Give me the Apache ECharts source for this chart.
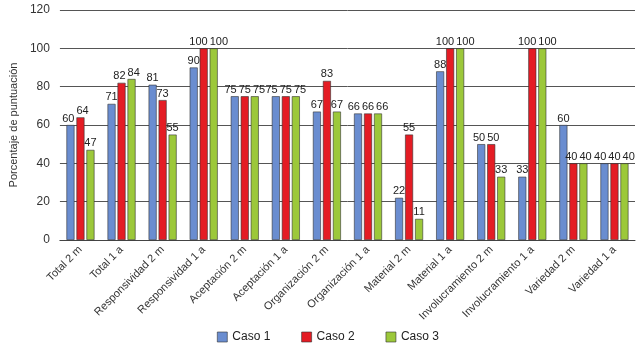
<!DOCTYPE html>
<html>
<head>
<meta charset="utf-8">
<script src="https://cdn.jsdelivr.net/npm/echarts@6/dist/echarts.min.js"></script>
<style>html,body{margin:0;padding:0;background:#fff}#c{width:643px;height:348px}</style>
</head>
<body>
<div id="c"></div>
<script>
const categories = ["Total 2 m","Total 1 a","Responsividad 2 m","Responsividad 1 a","Aceptación 2 m","Aceptación 1 a","Organización 2 m","Organización 1 a","Material 2 m","Material 1 a","Involucramiento 2 m","Involucramiento 1 a","Variedad 2 m","Variedad 1 a"];
const caso1 = [60,71,81,90,75,75,67,66,22,88,50,33,60,40];
const caso2 = [64,82,73,100,75,75,83,66,55,100,50,100,40,40];
const caso3 = [47,84,55,100,75,75,67,66,11,100,33,100,40,40];
const seriesNames = ["Caso 1","Caso 2","Caso 3"];
const yTicks = [0,20,40,60,80,100,120];

const colors = ["#6a8dd0","#e41c24","#9cc83a"];
const font = "'Liberation Sans', Arial, sans-serif";
const labelSize = 11;
const chart = echarts.init(document.getElementById('c'));

// spread overlapping value labels sideways (as in the original figure)
const allSeries = [caso1, caso2, caso3];
const mctx = document.createElement('canvas').getContext('2d');
mctx.font = labelSize + "px 'Liberation Sans'";
const pxPerUnit = 230 / 120, step = 10, lblH = 12;
const dxTable = allSeries.map(() => categories.map(() => 0));
categories.forEach((c, i) => {
  const v = allSeries.map(s => s[i]);
  const w = v.map(x => mctx.measureText(String(x)).width);
  const cx = [-step, 0, step];
  for (let it = 0; it < 40; it++) {
    for (let a = 0; a < 3; a++) for (let b = a + 1; b < 3; b++) {
      if (Math.abs(v[a] - v[b]) * pxPerUnit >= lblH) continue;
      const need = (w[a] + w[b]) / 2 + 2;
      const gap = cx[b] - cx[a];
      if (gap < need) { const d = (need - gap) / 2; cx[a] -= d; cx[b] += d; }
    }
  }
  [-step, 0, step].forEach((base, k) => { dxTable[k][i] = cx[k] - base; });
});

function mk(name, data, i) {
  return {
    name: name, type: 'bar', data: data, barWidth: 8, barGap: '25%',
    itemStyle: {color: colors[i], borderColor: '#333', borderWidth: 0.6},
    label: {show: true, position: 'top', distance: 1, fontSize: labelSize, color: '#222', fontFamily: font},
    labelLayout: p => ({dx: dxTable[p.seriesIndex][p.dataIndex]})
  };
}
chart.setOption({
  animation: false,
  textStyle: {fontFamily: font},
  color: colors,
  grid: {left: 53, right: 8, top: 10, bottom: 108},
  legend: {
    bottom: 0, left: 212, itemWidth: 10, itemHeight: 10, itemGap: 31,
    icon: 'rect',
    itemStyle: {borderColor: '#333', borderWidth: 0.6},
    textStyle: {fontSize: 12, color: '#222', fontFamily: font},
    data: seriesNames
  },
  xAxis: {
    type: 'category', data: categories,
    axisLine: {lineStyle: {color: '#444', width: 1}},
    axisTick: {show: false},
    axisLabel: {rotate: 45, fontSize: 11, color: '#333', margin: 8, interval: 0, fontFamily: font}
  },
  yAxis: {
    type: 'value', min: yTicks[0], max: yTicks[yTicks.length-1], interval: 20,
    name: 'Porcentaje de puntuación', nameLocation: 'middle', nameGap: 38,
    nameTextStyle: {fontSize: 11, color: '#333', fontFamily: font},
    axisLine: {show: false}, axisTick: {show: false},
    axisLabel: {fontSize: 12, color: '#333', margin: 10, fontFamily: font},
    splitLine: {lineStyle: {color: '#555', width: 1}}
  },
  series: [mk(seriesNames[0], caso1, 0), mk(seriesNames[1], caso2, 1), mk(seriesNames[2], caso3, 2)]
});
</script>
</body>
</html>
